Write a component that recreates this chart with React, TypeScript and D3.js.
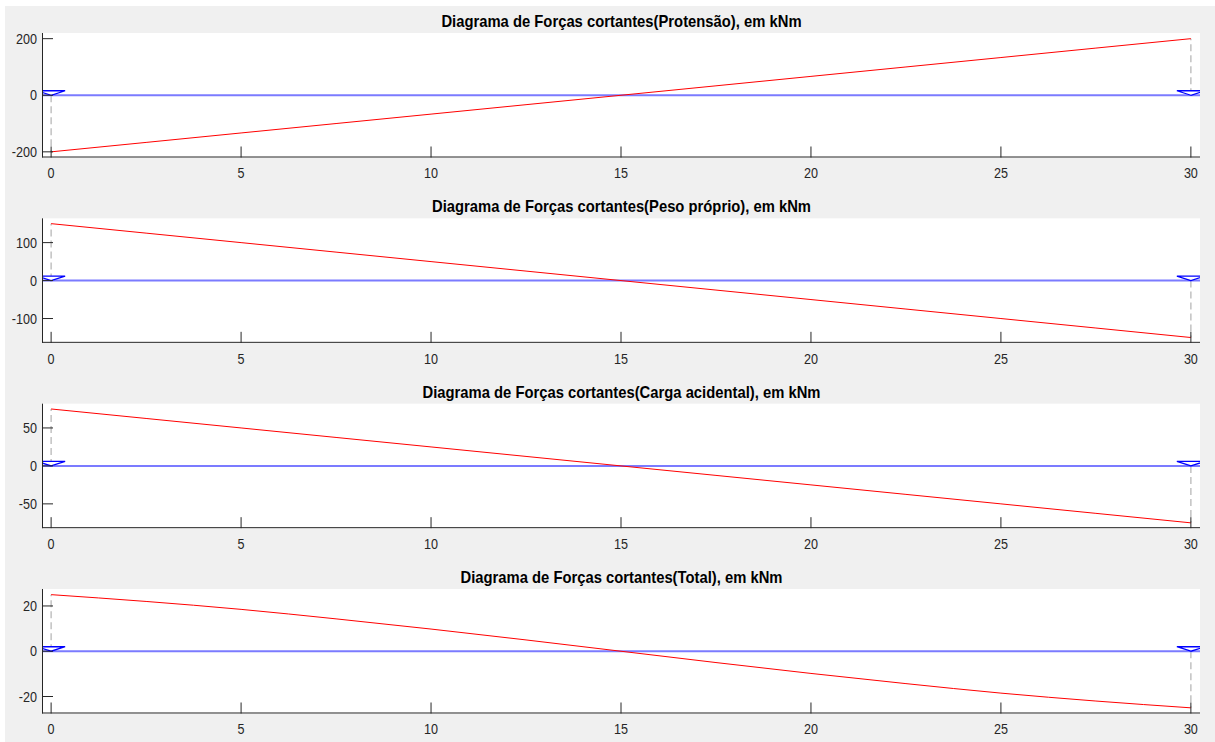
import React from 'react';
import * as d3 from 'd3';

// stations along the beam (m)
const STATIONS = [0, 2.5, 5, 7.5, 10, 12.5, 15, 17.5, 20, 22.5, 25, 27.5, 30];

// shear values (kN)
const PROTENSAO = [-200, -166.7, -133.3, -100, -66.7, -33.3, 0, 33.3, 66.7, 100, 133.3, 166.7, 200];
const PESO_PROPRIO = [150, 125, 100, 75, 50, 25, 0, -25, -50, -75, -100, -125, -150];
const CARGA_ACIDENTAL = [75, 62.5, 50, 37.5, 25, 12.5, 0, -12.5, -25, -37.5, -50, -62.5, -75];
const TOTAL = [25, 22.0, 18.5, 14.3, 9.8, 5.0, 0, -5.0, -9.8, -14.3, -18.5, -22.0, -25];

const TITLES = [
  'Diagrama de Forças cortantes(Protensão), em kNm',
  'Diagrama de Forças cortantes(Peso próprio), em kNm',
  'Diagrama de Forças cortantes(Carga acidental), em kNm',
  'Diagrama de Forças cortantes(Total), em kNm',
];

const Y_LIMITS = [220, 164, 82, 27.5];
const Y_TICKS = [
  [-200, 0, 200],
  [-100, 0, 100],
  [-50, 0, 50],
  [-20, 0, 20],
];
const X_DOMAIN = [-0.24, 30.24];
const X_TICKS = [0, 5, 10, 15, 20, 25, 30];
const SUPPORTS = [0, 30];

const SERIES = [PROTENSAO, PESO_PROPRIO, CARGA_ACIDENTAL, TOTAL];

const W = 1215;
const H = 742;
const LEFT = 42;
const RIGHT = 1200;
const TOP0 = 33;
const STEP = 185.33;
const PH = 124.5;
const TICK_LEN = 11;
const AXIS = '#262626';
const FONT = '"Liberation Sans", Arial, Helvetica, sans-serif';

function Panel({ idx }: { idx: number }) {
  const top = TOP0 + idx * STEP;
  const bottom = top + PH;
  const values = SERIES[idx];
  const lim = Y_LIMITS[idx];

  const x = d3.scaleLinear().domain(X_DOMAIN).range([LEFT, RIGHT]);
  const y = d3.scaleLinear().domain([-lim, lim]).range([bottom, top]);

  const line = d3
    .line<number>()
    .x((_, i) => x(STATIONS[i]))
    .y((d) => y(d))
    .curve(d3.curveMonotoneX);

  const clipId = `clip-${idx}`;
  const triH = 4.5;
  const triW = 14;
  const cx = (LEFT + RIGHT) / 2 + 0.5;

  return (
    <g>
      <defs>
        <clipPath id={clipId}>
          <rect x={LEFT} y={top} width={RIGHT - LEFT} height={PH} />
        </clipPath>
      </defs>
      <rect x={LEFT} y={top} width={RIGHT - LEFT} height={PH} fill="#ffffff" />

      <g clipPath={`url(#${clipId})`}>
        {/* closing dashed lines at the supports */}
        {SUPPORTS.map((s, i) => (
          <line
            key={`d${i}`}
            x1={x(s)}
            x2={x(s)}
            y1={y(0)}
            y2={y(i === 0 ? values[0] : values[values.length - 1])}
            stroke="#b8b8b8"
            strokeWidth={1.3}
            strokeDasharray="7,4"
          />
        ))}
        {/* beam */}
        <line x1={x(X_DOMAIN[0])} x2={x(X_DOMAIN[1])} y1={y(0)} y2={y(0)} stroke="#7b7bff" strokeWidth={2} />
        {/* supports */}
        {SUPPORTS.map((s, i) => {
          const px = x(s);
          const py = y(0);
          const pts = [
            [px, py],
            [px - triW, py - triH],
            [px + triW, py - triH],
          ];
          return (
            <polygon
              key={`t${i}`}
              points={pts.map((p) => p.join(',')).join(' ')}
              fill="#ffffff"
              stroke="#0000ff"
              strokeWidth={1.3}
            />
          );
        })}
        <path d={line(values) || ''} fill="none" stroke="#ff0000" strokeWidth={1} />
      </g>

      {/* axis lines (box off) */}
      <line x1={LEFT + 0.5} x2={LEFT + 0.5} y1={top} y2={bottom} stroke={AXIS} strokeWidth={1} />
      <line x1={LEFT} x2={RIGHT} y1={bottom - 0.5} y2={bottom - 0.5} stroke={AXIS} strokeWidth={1} />

      {X_TICKS.map((t) => (
        <g key={`xt${t}`}>
          <line x1={x(t)} x2={x(t)} y1={bottom} y2={bottom - TICK_LEN} stroke={AXIS} strokeWidth={1} />
          <text
            x={x(t)}
            y={bottom + 21}
            textAnchor="middle"
            fontSize={14}
            fill={AXIS}
            fontFamily={FONT}
            transform={`translate(${x(t)},0) scale(0.9,1) translate(${-x(t)},0)`}
          >
            {t}
          </text>
        </g>
      ))}
      {Y_TICKS[idx].map((t) => (
        <g key={`yt${t}`}>
          <line x1={LEFT} x2={LEFT + TICK_LEN} y1={y(t)} y2={y(t)} stroke={AXIS} strokeWidth={1} />
          <text
            x={LEFT - 5}
            y={y(t) + 5}
            textAnchor="end"
            fontSize={14}
            fill={AXIS}
            fontFamily={FONT}
            transform={`translate(${LEFT - 5},0) scale(0.9,1) translate(${-(LEFT - 5)},0)`}
          >
            {t}
          </text>
        </g>
      ))}

      <text
        x={cx}
        y={top - 6}
        textAnchor="middle"
        fontSize={16}
        fontWeight="bold"
        fill="#000000"
        fontFamily={FONT}
        transform={`translate(${cx},0) scale(0.925,1) translate(${-cx},0)`}
      >
        {TITLES[idx]}
      </text>
    </g>
  );
}

export default function App() {
  return (
    <svg
      width={W}
      height={H}
      style={{ position: 'absolute', left: 0, top: 0, background: '#ffffff' }}
    >
      <rect x={5} y={6} width={W - 5} height={H - 6} fill="#f0f0f0" />
      {TITLES.map((_, i) => (
        <Panel key={i} idx={i} />
      ))}
    </svg>
  );
}
